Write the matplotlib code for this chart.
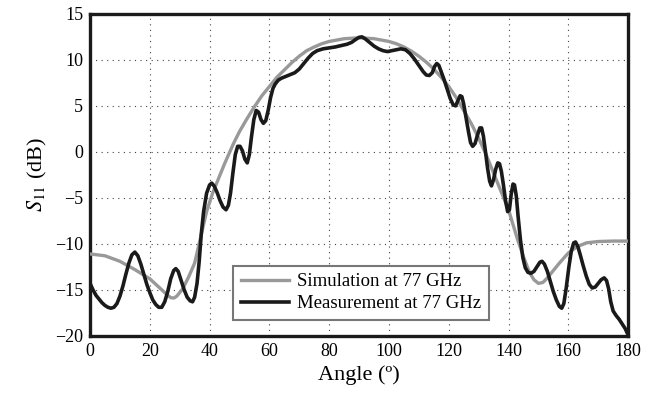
import numpy as np
import matplotlib
matplotlib.use('Agg')
import matplotlib.pyplot as plt

# Simulated S11 (gray)
sim_angle = [0, 5, 10, 15, 20, 24, 26, 27, 28, 29, 31, 33, 35, 37, 39, 41, 43, 45,
             48, 50, 52.5, 55, 57.5, 60, 62.5, 65, 67.5, 70, 72.5, 75, 77.5, 80, 85,
             90, 95, 100, 102.5, 105, 107.5, 110, 112.5, 115, 117.5, 120, 122.5, 125,
             127.5, 130, 132.5, 135, 137.5, 140, 143, 145, 147, 148.5, 150, 151.5,
             153, 155, 157, 160, 163, 166, 170, 175, 180]
sim_s11 = [-11.1, -11.3, -11.9, -12.8, -13.8, -15.0, -15.6, -15.85, -15.9, -15.7,
           -14.9, -13.6, -12.1, -9.3, -6.5, -4.5, -2.9, -1.3, 0.9, 2.2, 3.6, 4.9,
           6.1, 7.1, 8.1, 8.9, 9.7, 10.4, 11.0, 11.4, 11.75, 12.0, 12.3, 12.4, 12.3,
           12.0, 11.75, 11.4, 10.95, 10.4, 9.75, 9.0, 8.1, 7.1, 5.9, 4.5, 3.1, 1.5,
           -0.3, -2.3, -4.3, -6.3, -9.5, -11.4, -13.1, -13.9, -14.3, -14.2, -13.7,
           -12.9, -12.1, -11.0, -10.3, -9.9, -9.75, -9.7, -9.7]

# Measured S11 (black)
meas_angle = [0, 1, 2, 3, 4, 5, 6, 7, 8, 9, 10, 11, 12, 13, 14, 15, 16, 17, 18, 19,
              20, 21, 22, 23, 24, 25, 26, 27, 28, 28.7, 29.5, 30.5, 31.5, 32.5, 33.5,
              34.3, 35, 35.8, 36.5, 37.2, 38, 39, 40, 40.7, 41.5, 42.5, 43.5, 44.5,
              45.5, 46.3, 47, 47.8, 48.6, 49.4, 50.2, 51, 51.8, 52.6, 53.3, 54, 54.8,
              55.6, 56.4, 57.2, 58, 58.8, 59.6, 60.4, 61.2, 62, 63, 64, 65.5, 67,
              68.5, 70, 71.5, 73, 74.5, 76, 78, 80, 82, 84, 86, 87.5, 88.8, 90, 91,
              92, 93.5, 95, 96.5, 98, 99.5, 101, 102.5, 104, 105.5, 107, 108.5, 110,
              111.5, 112.5, 113.5, 114.5, 115.3, 116, 116.7, 117.5, 118.5, 119.5,
              120.5, 121.5, 122.3, 123, 123.8, 124.4, 125, 125.8, 126.6, 127.3, 128,
              128.8, 129.6, 130.4, 131, 131.6, 132.3, 133, 133.7, 134.3, 135, 135.7,
              136.4, 137, 137.6, 138.3, 139, 139.7, 140.3, 140.9, 141.5, 142, 142.6,
              143.2, 144, 144.8, 145.6, 146.5, 147.5, 148.5, 149.5, 150.5, 151.2, 152,
              153, 154, 155, 156, 157, 157.8, 158.5, 159.3, 160.2, 161, 161.8, 162.4,
              163.2, 164, 165, 166, 167, 168, 169, 170, 171, 172, 172.8, 173.5, 174.2,
              175, 176, 177, 178, 179, 180]
meas_s11 = [-14.3, -15.0, -15.6, -16.0, -16.4, -16.7, -16.9, -17.0, -16.9, -16.5,
            -15.7, -14.6, -13.3, -12.1, -11.2, -10.9, -11.3, -12.2, -13.3, -14.4,
            -15.3, -16.1, -16.6, -16.9, -16.9, -16.3, -15.2, -13.8, -12.9, -12.7,
            -13.0, -14.0, -15.0, -15.8, -16.2, -16.3, -15.8, -14.3, -12.0, -9.0,
            -6.5, -4.5, -3.6, -3.4, -3.7, -4.4, -5.3, -6.0, -6.3, -5.8, -4.5, -2.3,
            -0.3, 0.6, 0.6, 0.1, -0.8, -1.2, -0.3, 1.6, 3.5, 4.5, 4.3, 3.5, 3.1, 3.4,
            4.5, 5.9, 6.9, 7.4, 7.8, 8.0, 8.2, 8.4, 8.6, 9.0, 9.6, 10.2, 10.7, 11.0,
            11.2, 11.3, 11.4, 11.55, 11.7, 11.9, 12.2, 12.45, 12.5, 12.3, 11.9, 11.5,
            11.2, 11.0, 10.9, 11.0, 11.1, 11.2, 11.1, 10.7, 10.1, 9.4, 8.7, 8.35, 8.3,
            8.6, 9.3, 9.6, 9.4, 8.7, 7.8, 6.8, 5.8, 5.1, 5.0, 5.5, 6.1, 6.0, 5.2, 3.7,
            2.2, 1.0, 0.6, 0.9, 1.8, 2.6, 2.6, 1.7, 0.0, -1.8, -3.2, -3.7, -3.0, -1.9,
            -1.2, -1.3, -2.1, -3.6, -5.3, -6.5, -6.3, -4.6, -3.5, -3.6, -4.8, -7.0,
            -9.6, -11.5, -12.6, -13.1, -13.2, -13.0, -12.5, -12.0, -11.9, -12.2,
            -13.0, -14.1, -15.2, -16.1, -16.8, -17.0, -16.5, -14.8, -12.5, -10.8,
            -9.9, -9.8, -10.3, -11.2, -12.4, -13.5, -14.4, -14.8, -14.7, -14.3,
            -13.9, -13.7, -14.0, -14.9, -16.3, -17.3, -17.8, -18.2, -18.7, -19.2,
            -19.9]

x_ticks = [0, 20, 40, 60, 80, 100, 120, 140, 160, 180]
y_ticks = [-20, -15, -10, -5, 0, 5, 10, 15]

plt.rcParams['font.family'] = ['Liberation Serif', 'DejaVu Serif']
plt.rcParams['mathtext.fontset'] = 'stix'

fig = plt.figure(figsize=(6.57, 3.96), dpi=100)
ax = fig.add_axes([0.137, 0.152, 0.819, 0.813])

ax.plot(sim_angle, sim_s11, color='#999999', lw=2.4, label='Simulation at 77 GHz',
        solid_joinstyle='round', zorder=3)
ax.plot(meas_angle, meas_s11, color='#1a1a1a', lw=2.6, label='Measurement at 77 GHz',
        solid_joinstyle='round', zorder=4)

ax.set_xlim(0, 180)
ax.set_ylim(-20, 15)
ax.set_xticks(x_ticks)
ax.set_yticks(y_ticks)
ax.set_yticklabels([str(v).replace('-', '\u2212') for v in y_ticks])
ax.tick_params(length=0, labelsize=13, pad=5)
ax.grid(True, linestyle=(0, (1, 4)), color='#444444', lw=0.8)
for s in ax.spines.values():
    s.set_linewidth(2.4)
    s.set_color('#1a1a1a')

ax.set_xlabel('Angle (º)', fontsize=16, labelpad=4)
ax.set_ylabel('$S_{11}$ (dB)', fontsize=16, labelpad=4)

leg = ax.legend(loc='lower left', bbox_to_anchor=(0.266, 0.05), borderaxespad=0,
                fontsize=13.5, fancybox=False, handlelength=2.6, framealpha=1,
                borderpad=0.4, labelspacing=0.25, handletextpad=0.4)
leg.get_frame().set_edgecolor('#777777')
leg.get_frame().set_linewidth(1.5)

fig.savefig('out.png', dpi=100)
